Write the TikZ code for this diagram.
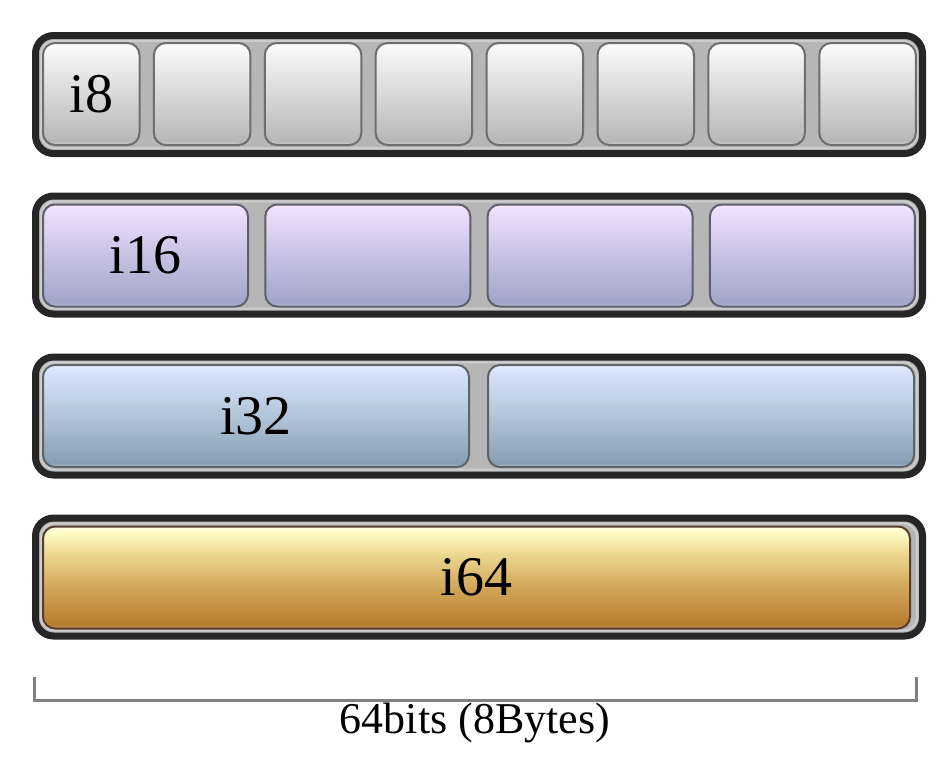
\documentclass[tikz,border=0pt]{standalone}
\usepackage{fontspec}
\setmainfont{Liberation Serif}
\definecolor{framedark}{HTML}{262626}
\definecolor{framegray}{HTML}{B6B6B6}
\definecolor{ringgray}{HTML}{CDCDCD}
\definecolor{bd8}{HTML}{6E6E6E}
\definecolor{bd16}{HTML}{5E5E6E}
\definecolor{bd32}{HTML}{5C6468}
\definecolor{bd64}{HTML}{5A3C2C}
\definecolor{brk}{HTML}{808080}
\pgfdeclareverticalshading{sheight}{100bp}{rgb(0bp)=(0.80,0.80,0.80); rgb(25bp)=(0.80,0.80,0.80); rgb(27bp)=(0.72,0.72,0.72); rgb(72bp)=(0.97,0.97,0.97); rgb(75bp)=(1,1,1); rgb(100bp)=(1,1,1)}
\pgfdeclareverticalshading{ssixteen}{100bp}{rgb(0bp)=(0.74,0.74,0.84); rgb(25bp)=(0.74,0.74,0.84); rgb(27bp)=(0.63,0.65,0.79); rgb(50bp)=(0.78,0.76,0.89); rgb(73bp)=(0.94,0.88,0.99); rgb(75bp)=(0.96,0.92,1); rgb(100bp)=(0.96,0.92,1)}
\pgfdeclareverticalshading{sthirtytwo}{100bp}{rgb(0bp)=(0.68,0.72,0.77); rgb(25bp)=(0.68,0.72,0.77); rgb(27bp)=(0.53,0.62,0.70); rgb(50bp)=(0.70,0.77,0.85); rgb(73bp)=(0.85,0.90,0.99); rgb(75bp)=(0.92,0.95,1); rgb(100bp)=(0.92,0.95,1)}
\pgfdeclareverticalshading{ssixtyfour}{100bp}{rgb(0bp)=(0.78,0.55,0.45); rgb(25bp)=(0.78,0.55,0.45); rgb(27bp)=(0.72,0.49,0.18); rgb(45bp)=(0.82,0.65,0.35); rgb(62bp)=(0.93,0.85,0.57); rgb(72bp)=(1,0.99,0.78); rgb(75bp)=(1,1,0.86); rgb(100bp)=(1,1,0.86)}
\begin{document}
\begin{tikzpicture}[x=0.5pt,y=-0.5pt,
  frame/.style={draw=framedark, line width=3.5pt, fill=framegray, rounded corners=9pt,
    minimum width=443.5pt, minimum height=59pt, inner sep=0pt, outer sep=0pt},
  ring/.style={draw=ringgray, line width=1pt, rounded corners=7pt},
  cell/.style={shade, line width=1pt, rounded corners=6pt, inner sep=0pt,
    minimum height=51pt, font=\fontsize{28}{32}\selectfont},
  ceight/.style={cell, draw=bd8, shading=sheight, minimum width=48.25pt},
  csixteen/.style={cell, draw=bd16, shading=ssixteen, minimum width=102.5pt},
  cthirtytwo/.style={cell, draw=bd32, shading=sthirtytwo, minimum width=213pt},
  csixtyfour/.style={cell, draw=bd64, shading=ssixtyfour, minimum width=433.5pt},
  bracket/.style={draw=brk, line width=1.5pt},
  caption/.style={font=\fontsize{22}{26}\selectfont, inner sep=0pt}
]
\useasboundingbox (0,0) rectangle (942,768);
% frames
\node[frame] (f1) at (479,94.5) {};
\node[frame] (f2) at (479,255) {};
\node[frame] (f3) at (479,416) {};
\node[frame] (f4) at (479,577) {};
\foreach \f in {f1,f2,f3,f4}{
  \draw[ring] ([shift={(5.4,5.4)}]\f.north west) rectangle ([shift={(-5.4,-5.4)}]\f.south east);
}
% i8 row
\node[ceight] (a1) at (91.25,94) {i8};
\foreach \k [evaluate=\k as \xx using 91.25+110.9*(\k-1)] in {2,...,8}{
  \node[ceight] (a\k) at (\xx,94) {};
}
% i16 row
\node[csixteen] (b1) at (145.5,255.5) {i16};
\foreach \k [evaluate=\k as \xx using 145.5+222.3*(\k-1)] in {2,3,4}{
  \node[csixteen] (b\k) at (\xx,255.5) {};
}
% i32 row
\node[cthirtytwo] (c1) at (256,416) {i32};
\node[cthirtytwo] (c2) at (701,416) {};
% i64 row
\node[csixtyfour] (d1) at (476.5,577.5) {i64};
% bracket
\coordinate (bl) at (34,677);
\coordinate (blb) at (34,700);
\coordinate (brb) at (916,700);
\coordinate (br) at (916,677);
\draw[bracket] (bl) -- (blb) -- (brb) -- (br);
\node[caption] (cap) at (475,723) {64bits (8Bytes)};
\end{tikzpicture}
\end{document}
